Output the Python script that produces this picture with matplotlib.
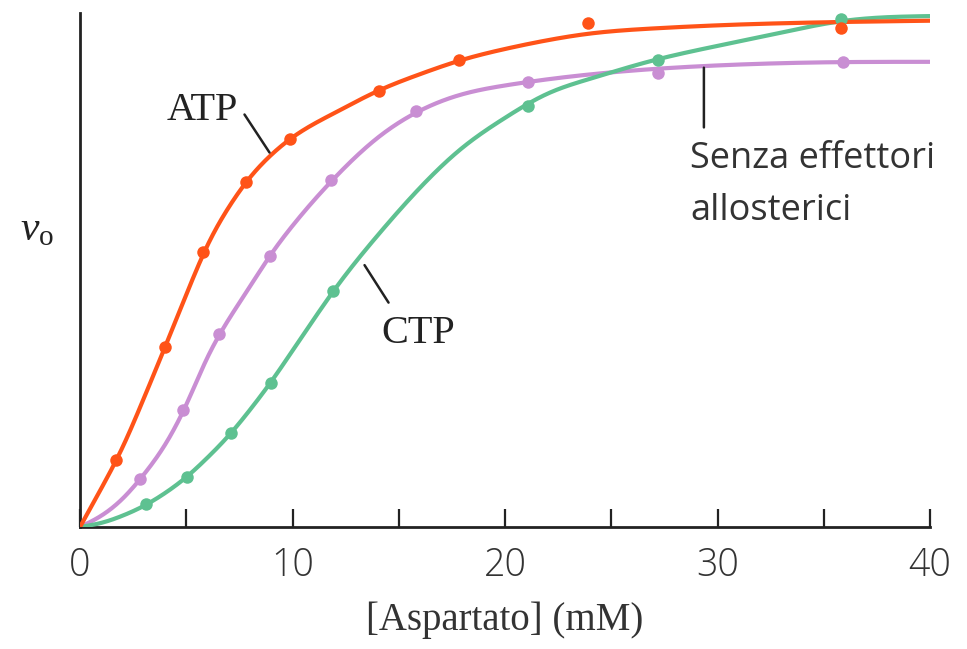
import numpy as np
import matplotlib
matplotlib.use("Agg")
import matplotlib.pyplot as plt

atp_x = [1.7, 4.0, 5.8, 7.83, 9.9, 14.05, 17.85, 23.9, 35.8]
atp_y = [0.131, 0.350, 0.535, 0.671, 0.754, 0.849, 0.908, 0.981, 0.971]

none_x = [2.81, 4.86, 6.56, 8.92, 11.8, 15.8, 21.1, 27.2, 35.9]
none_y = [0.094, 0.228, 0.376, 0.527, 0.675, 0.809, 0.866, 0.883, 0.905]

ctp_x = [3.12, 5.02, 7.1, 8.98, 11.9, 21.08, 27.2, 35.8]
ctp_y = [0.044, 0.098, 0.182, 0.281, 0.460, 0.819, 0.909, 0.988]

# ---- fitted curves ----
atp_cx = [0, 1, 2, 3, 4, 5, 6, 7, 8, 9, 10, 12, 14, 16, 18, 20, 22, 24, 27, 30, 34, 40]
atp_cy = [0, 0.075, 0.155, 0.25, 0.350, 0.452, 0.548, 0.622, 0.680, 0.724, 0.758,
          0.806, 0.848, 0.881, 0.909, 0.930, 0.947, 0.960, 0.970, 0.976, 0.981, 0.985]

none_cx = [0, 1, 2, 3, 4, 5, 6, 7, 8, 9, 10, 12, 14, 16, 18, 20, 23, 26, 30, 35, 40]
none_cy = [0, 0.022, 0.055, 0.102, 0.160, 0.238, 0.330, 0.404, 0.468, 0.531, 0.586,
           0.680, 0.757, 0.810, 0.842, 0.859, 0.876, 0.888, 0.898, 0.904, 0.905]

ctp_cx = [0, 1, 2, 3, 4, 5, 6, 7, 8, 9, 10, 11, 12, 14, 16, 18, 20, 22, 24, 27, 30, 33, 36, 40]
ctp_cy = [0, 0.008, 0.022, 0.041, 0.066, 0.097, 0.135, 0.178, 0.228, 0.283, 0.343, 0.404,
          0.463, 0.567, 0.660, 0.738, 0.796, 0.843, 0.872, 0.908, 0.936, 0.962, 0.985, 0.994]

x_ticks_major = [0, 10, 20, 30, 40]
x_ticks_minor = [5, 15, 25, 35]

RED = "#FF5318"
PURPLE = "#C98ED3"
GREEN = "#5EC191"


def natural_spline(x, y, xs):
    x = np.asarray(x, float); y = np.asarray(y, float)
    n = len(x); h = np.diff(x)
    A = np.zeros((n, n)); b = np.zeros(n)
    A[0, 0] = 1; A[-1, -1] = 1
    for i in range(1, n - 1):
        A[i, i - 1] = h[i - 1]; A[i, i] = 2 * (h[i - 1] + h[i]); A[i, i + 1] = h[i]
        b[i] = 6 * ((y[i + 1] - y[i]) / h[i] - (y[i] - y[i - 1]) / h[i - 1])
    M = np.linalg.solve(A, b)
    idx = np.clip(np.searchsorted(x, xs) - 1, 0, n - 2)
    x0 = x[idx]; x1 = x[idx + 1]; hh = h[idx]
    return (M[idx] * (x1 - xs) ** 3 / (6 * hh) + M[idx + 1] * (xs - x0) ** 3 / (6 * hh)
            + (y[idx] / hh - M[idx] * hh / 6) * (x1 - xs)
            + (y[idx + 1] / hh - M[idx + 1] * hh / 6) * (xs - x0))


plt.rcParams['mathtext.fontset'] = 'custom'
plt.rcParams['mathtext.it'] = 'Liberation Serif:italic'
plt.rcParams['mathtext.rm'] = 'Liberation Serif'

fig = plt.figure(figsize=(9.67, 6.49), dpi=100)
ax = fig.add_axes([80/967, 1-527/649, 850/967, 514/649])

xs = np.linspace(0, 40, 800)
lw = 3.0
for cx, cy, px, py, c in [(none_cx, none_cy, none_x, none_y, PURPLE),
                          (ctp_cx, ctp_cy, ctp_x, ctp_y, GREEN),
                          (atp_cx, atp_cy, atp_x, atp_y, RED)]:
    ax.plot(xs, natural_spline(cx, cy, xs), color=c, lw=lw, solid_capstyle='butt', zorder=3)
    ax.plot(px, py, 'o', color=c, ms=9, mec='none', zorder=4)

ax.set_xlim(0, 40)
ax.set_ylim(0, 1)
ax.spines['top'].set_visible(False)
ax.spines['right'].set_visible(False)
for s in ('left', 'bottom'):
    ax.spines[s].set_linewidth(2.0)
    ax.spines[s].set_color('#222222')
ax.set_yticks([])
ax.set_xticks(x_ticks_major)
ax.set_xticks(x_ticks_minor, minor=True)
ax.tick_params(axis='x', which='both', direction='in', length=13, width=1.6, color='#222222')
ax.tick_params(axis='x', which='major', pad=14)
ax.set_xticklabels([str(v) for v in x_ticks_major], fontfamily='Open Sans',
                   fontweight='light', fontsize=27, color='#333333')

ax.set_xlabel('[Aspartato] (mM)', fontfamily='Liberation Serif', fontsize=28,
              color='#333333', labelpad=12)

fig.text(20/967, 1-240/649, r'$\mathit{v}_{\mathrm{o}}$', fontsize=30, color='#222222')

serif = dict(fontfamily='Liberation Serif', fontsize=29, color='#222222')
ax.annotate('', xy=(8.99, 0.724), xytext=(7.67, 0.807),
            arrowprops=dict(arrowstyle='-', lw=1.8, color='#222222'))
ax.text(5.74, 0.792, 'ATP', ha='center', va='baseline', **serif)

ax.annotate('', xy=(14.59, 0.432), xytext=(13.32, 0.514),
            arrowprops=dict(arrowstyle='-', lw=1.8, color='#222222'))
ax.text(15.9, 0.358, 'CTP', ha='center', va='baseline', **serif)

ax.annotate('', xy=(29.36, 0.772), xytext=(29.36, 0.899),
            arrowprops=dict(arrowstyle='-', lw=1.8, color='#222222'))
sans = dict(fontfamily='Open Sans', fontsize=26, color='#333333')
ax.text(28.7, 0.698, 'Senza effettori', ha='left', va='baseline', **sans)
ax.text(28.7, 0.597, 'allosterici', ha='left', va='baseline', **sans)

fig.savefig('out.png', dpi=100, facecolor='white')
